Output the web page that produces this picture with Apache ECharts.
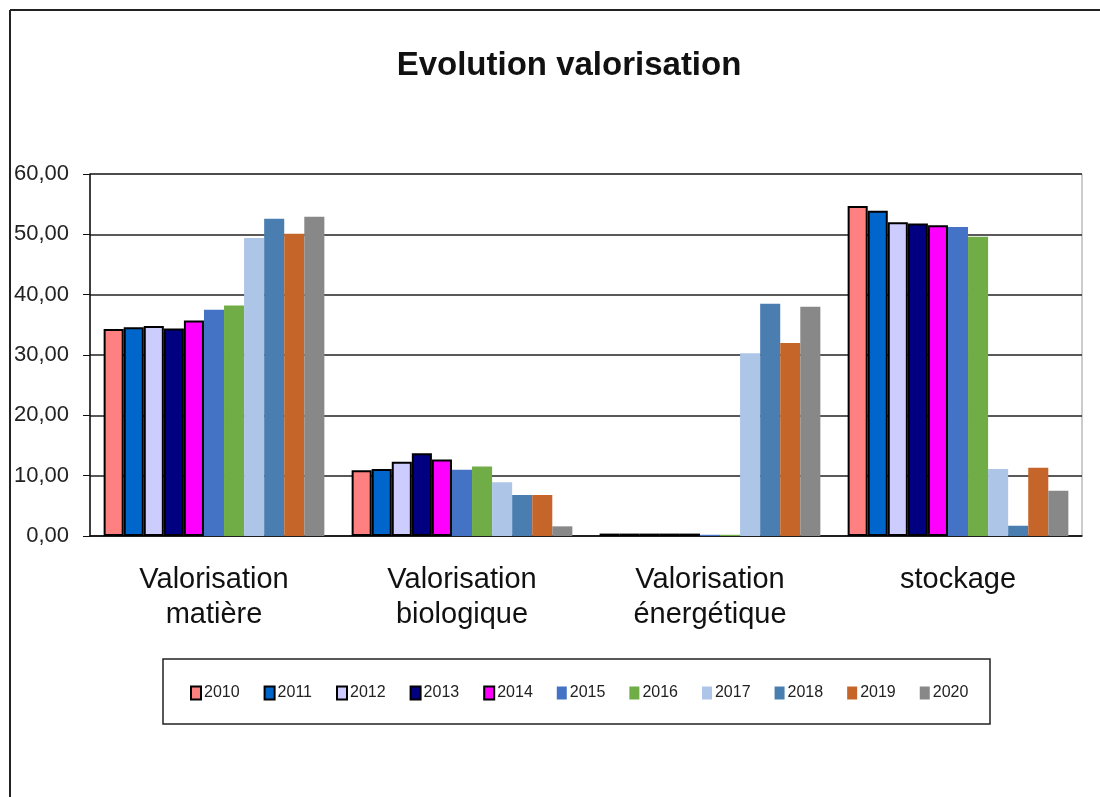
<!DOCTYPE html>
<html>
<head>
<meta charset="utf-8">
<script src="https://cdn.jsdelivr.net/npm/echarts@6/dist/echarts.min.js"></script>
<style>html,body{margin:0;padding:0;background:#fff}#c{width:1100px;height:797px}</style>
</head>
<body>
<div id="c"></div>
<script>
const categories = ['Valorisation\nmatière', 'Valorisation\nbiologique', 'Valorisation\nénergétique', 'stockage'];
const years = ['2010','2011','2012','2013','2014','2015','2016','2017','2018','2019','2020'];
const v2010 = [34.3, 10.9, 0.4, 54.7];
const v2011 = [34.6, 11.1, 0.4, 53.9];
const v2012 = [34.8, 12.3, 0.4, 52.0];
const v2013 = [34.4, 13.7, 0.4, 51.8];
const v2014 = [35.7, 12.7, 0.4, 51.5];
const v2015 = [37.5, 11.0, 0.2, 51.2];
const v2016 = [38.2, 11.5, 0.2, 49.6];
const v2017 = [49.4, 8.9, 30.3, 11.1];
const v2018 = [52.6, 6.8, 38.5, 1.7];
const v2019 = [50.1, 6.8, 32.0, 11.3];
const v2020 = [52.9, 1.6, 38.0, 7.5];
const yTicks = [0, 10, 20, 30, 40, 50, 60];
const values = [v2010, v2011, v2012, v2013, v2014, v2015, v2016, v2017, v2018, v2019, v2020];
const colors = ['#FF8080','#0066CC','#CCCCFF','#000080','#FF00FF','#4472C4','#70AD47','#ADC5E7','#4A7EB0','#C5652A','#888888'];
const outlined = [true,true,true,true,true,false,false,false,false,false,false];

const chart = echarts.init(document.getElementById('c'), null, {renderer: 'canvas'});
const series = years.map((y, i) => ({
  name: y,
  type: 'bar',
  data: values[i],
  barGap: '0%',
  barCategoryGap: '11%',
  itemStyle: outlined[i]
    ? {color: colors[i], borderColor: '#000', borderWidth: 2}
    : {color: colors[i]},
  emphasis: {disabled: true}
}));

chart.setOption({
  animation: false,
  backgroundColor: '#fff',
  title: {
    text: 'Evolution valorisation',
    left: 564, top: 44, textAlign: 'center',
    textStyle: {fontFamily: 'Liberation Sans', fontWeight: 'bold', fontSize: 33, color: '#111'}
  },
  graphic: [
    {type: 'line', shape: {x1: 10, y1: 10, x2: 1100, y2: 10}, style: {stroke: '#222', lineWidth: 2}},
    {type: 'line', shape: {x1: 10, y1: 10, x2: 10, y2: 797}, style: {stroke: '#222', lineWidth: 2}},
    {type: 'rect', shape: {x: 163, y: 659, width: 827, height: 65}, style: {fill: 'none', stroke: '#222', lineWidth: 1.5}, z: -1}
  ],
  legend: {
    data: years,
    left: 185, top: 680,
    itemWidth: 10, itemHeight: 13, itemGap: 24,
    icon: 'rect',
    textStyle: {fontFamily: 'Liberation Sans', fontSize: 16, color: '#222', padding: [0,0,0,-2]}
  },
  grid: {left: 90, right: 18, top: 174, bottom: 261, show: true, borderColor: '#999', borderWidth: 1, containLabel: false},
  xAxis: {
    type: 'category',
    data: categories,
    axisLine: {lineStyle: {color: '#111', width: 1.5}},
    axisTick: {length: 8, lineStyle: {color: '#111'}},
    axisLabel: {margin: 26, lineHeight: 35, fontFamily: 'Liberation Sans', fontSize: 29, color: '#111', interval: 0}
  },
  yAxis: {
    type: 'value',
    min: yTicks[0], max: yTicks[yTicks.length - 1], interval: 10,
    axisLine: {show: true, lineStyle: {color: '#111', width: 1.5}},
    axisTick: {show: true, length: 7, lineStyle: {color: '#111'}},
    axisLabel: {
      fontFamily: 'Liberation Sans', fontSize: 22, color: '#222', margin: 21,
      formatter: v => v.toFixed(2).replace('.', ',')
    },
    splitLine: {lineStyle: {color: '#222', width: 1.5}}
  },
  series: series
});
</script>
</body>
</html>
